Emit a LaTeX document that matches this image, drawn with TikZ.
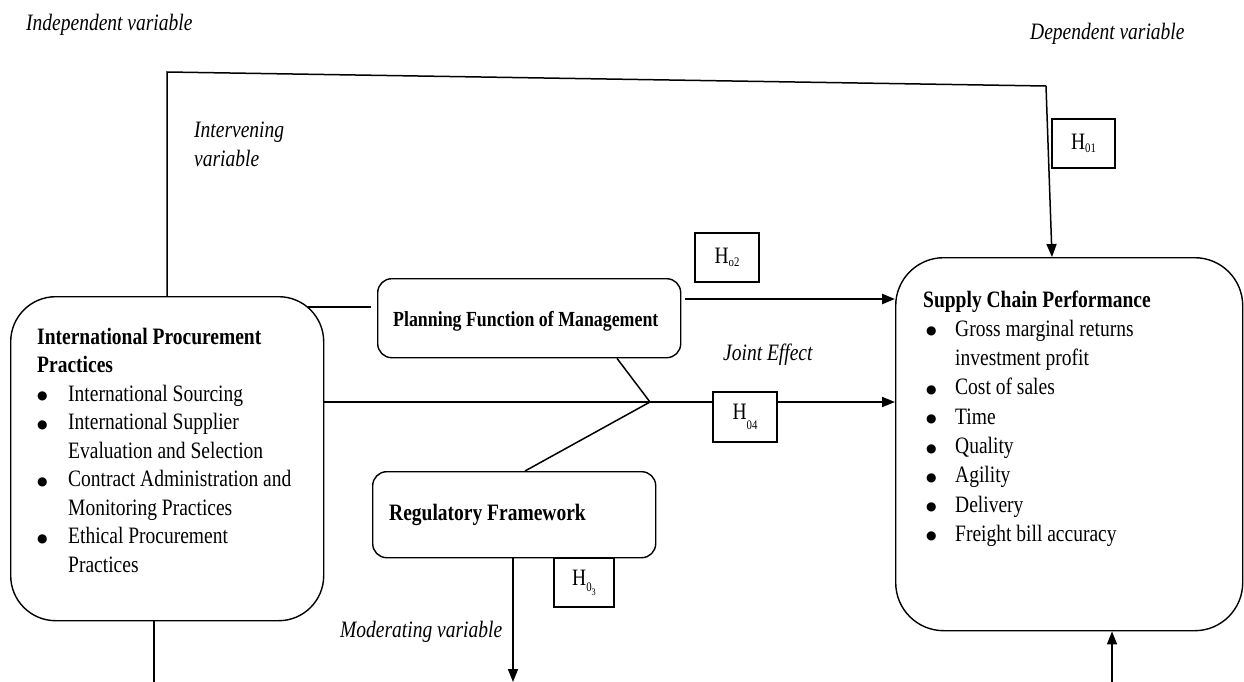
\documentclass[tikz,border=0pt]{standalone}
\usepackage{fontspec}
\setmainfont{Liberation Serif}[FakeStretch=0.83]
\newfontfamily\dejavu{DejaVu Sans}
\usetikzlibrary{arrows.meta,calc}
\newcommand{\bodyfont}{\fontsize{23.5}{28.5}\selectfont}
\newcommand{\bigbul}{\raisebox{1.5pt}{\dejavu\fontsize{12}{12}\selectfont ●}}
\newcommand{\blt}{\makebox[31pt][l]{\bigbul}}
\newcommand{\ind}{\hspace*{31pt}}
\newcommand{\sblt}{\hspace*{3pt}\makebox[29pt][l]{\bigbul}}
\newcommand{\Hlab}[2]{H\raisebox{#1}{\fontsize{13}{13}\selectfont #2}}
\tikzset{
  rbox/.style={draw, line width=1.4pt, inner sep=0pt, anchor=north west},
  hbox/.style={draw, line width=1.3pt, fill=white, inner sep=0pt, font=\bodyfont},
  conn/.style={line width=1.5pt},
  arr/.style={line width=1.8pt, -{Triangle[length=13pt,width=10pt]}},
  lbl/.style={inner sep=0pt, anchor=base west, font=\bodyfont\itshape},
}
\begin{document}
\begin{tikzpicture}[x=1pt,y=-1pt]
\useasboundingbox (0,0) rectangle (1244,682);

% boxes
\node[rbox, rounded corners=45pt, minimum width=313pt, minimum height=324pt] (ipp) at (10,296) {};
\node[rbox, rounded corners=48pt, minimum width=347pt, minimum height=373pt] (scp) at (895,257) {};
\node[rbox, rounded corners=14pt, minimum width=303pt, minimum height=79pt] (pfm) at (377,278) {};
\node[rbox, rounded corners=14pt, minimum width=283pt, minimum height=86pt] (rf) at (372,471) {};

% coordinates
\coordinate (tl) at (167,72);
\coordinate (tr) at (1046,86);
\coordinate (h1x) at (1052,0);
\coordinate (j) at (650,402);
\coordinate (a2) at (685,299);
\coordinate (p1) at (617,0);
\coordinate (r1) at (525,0);
\coordinate (r2) at (513,682);
\coordinate (s1) at (1112,682);
\coordinate (b1) at (154,682);
\coordinate (i1) at (308,307);

% connectors
\draw[conn] (ipp.north -| tl) -- (tl) -- (tr);
\draw[arr, line width=1.5pt] (tr) -- (scp.north -| h1x);
\draw[arr] (ipp.east |- j) -- (scp.west |- j);
\draw[arr, line width=2.4pt] (a2) -- (scp.west |- a2);
\draw[conn] (pfm.south -| p1) -- (j) -- (rf.north -| r1);
\draw[arr, line width=1.5pt] (rf.south -| r2) -- (r2);
\draw[arr, line width=1.5pt] (s1) -- (scp.south -| s1);
\draw[conn] (ipp.south -| b1) -- (b1);
\draw[conn] (i1) -- ($(pfm.west |- i1)+(-6,0)$);

% hypothesis boxes
\node[hbox, minimum width=63pt, minimum height=49pt] (h1) at (1083.5,143.5) {\Hlab{-0.1em}{01}};
\node[hbox, minimum width=64pt, minimum height=49pt] (h2) at (727,257.5) {\Hlab{-0.1em}{o2}};
\node[hbox, minimum width=60pt, minimum height=49pt] (h3) at (584,582.5) {\Hlab{-0.25em}{0\raisebox{-0.3em}{\fontsize{10}{10}\selectfont 3}}};
\node[hbox, minimum width=64pt, minimum height=50pt] (h4) at (745,417) {\Hlab{-0.4em}{04}};

% box texts
\node[inner sep=0pt, anchor=base west] (ipptext) at (37,344) {\parbox[t]{285pt}{\bodyfont
\textbf{International Procurement}\\
\textbf{Practices}\\
\blt International Sourcing\\
\blt International Supplier\\
\ind Evaluation and Selection\\
\blt Contract Administration and\\
\ind Monitoring Practices\\
\blt Ethical Procurement\\
\ind Practices}};

\node[inner sep=0pt, anchor=base west] (scptext) at (923,307) {\parbox[t]{300pt}{\fontsize{23.5}{29.3}\selectfont
\textbf{Supply Chain Performance}\\
\sblt Gross marginal returns\\
\hspace*{32pt}investment profit\\
\sblt Cost of sales\\
\sblt Time\\
\sblt Quality\\
\sblt Agility\\
\sblt Delivery\\
\sblt Freight bill accuracy}};

\node[inner sep=0pt, anchor=base west, font=\fontsize{21.5}{26}\selectfont\bfseries] (pfmtext) at (393,326) {Planning Function of Management};
\node[inner sep=0pt, anchor=base west, font=\bodyfont\bfseries] (rftext) at (389,520) {Regulatory Framework};

% labels
\node[lbl] (indep) at (26,31) {Independent variable};
\node[lbl] (dep) at (1030,40) {Dependent variable};
\node[lbl] (interv) at (194,138) {\parbox[t]{150pt}{\bodyfont Intervening\\variable}};
\node[lbl] (joint) at (723,360) {Joint Effect};
\node[lbl] (moder) at (340,637) {Moderating variable};
\end{tikzpicture}
\end{document}
